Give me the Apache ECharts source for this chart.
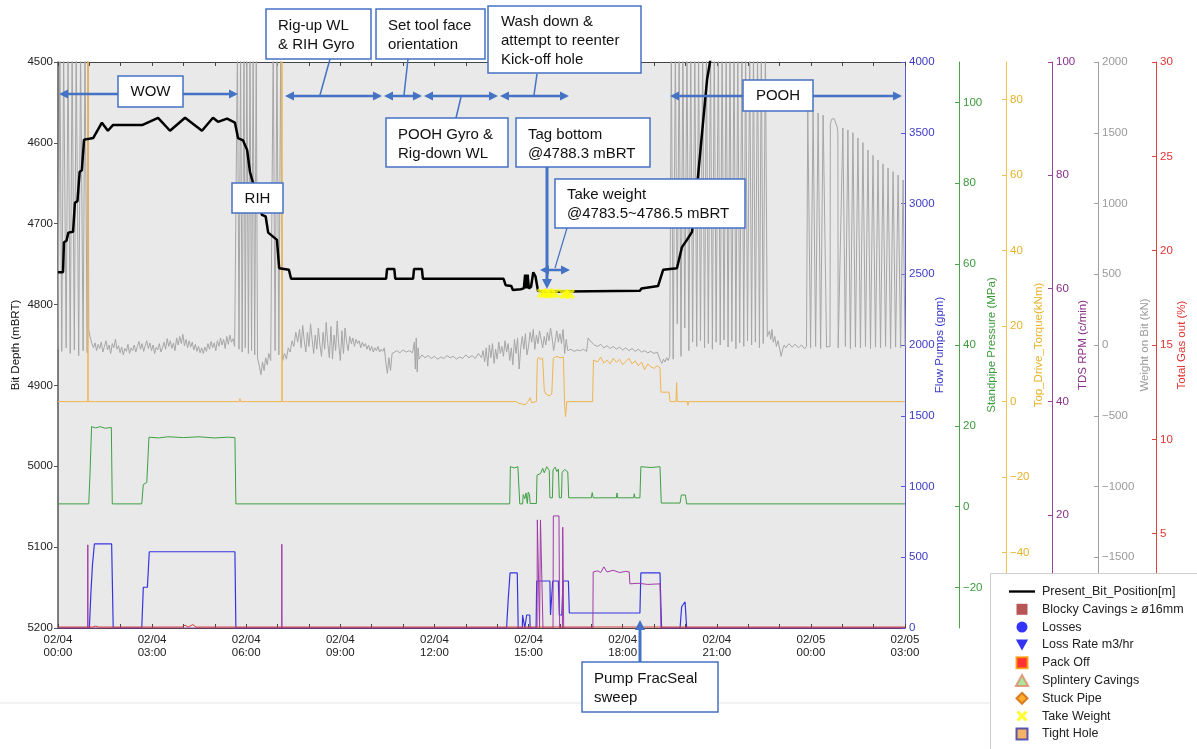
<!DOCTYPE html>
<html><head><meta charset="utf-8">
<script src="https://cdn.jsdelivr.net/npm/echarts@6/dist/echarts.min.js"></script>
<style>html,body{margin:0;padding:0;background:#fff}#c{width:1197px;height:749px}</style>
</head><body><div id="c"></div>
<script>
// ---------- DATA (x = hours since 02/04 00:00) ----------
const dayLabels = ['02/04', '02/05'];
const depthTicks = [4500, 5200, 100];
const standpipeTicks = [-20, 0, 20, 40, 60, 80, 100];
const torqueTicks = [-40, -20, 0, 20, 40, 60, 80];

const bitDepth = [[0,4760],[0.16,4760],[0.19,4723],[0.27,4721],[0.33,4711],[0.48,4710],[0.54,4674],[0.62,4672],[0.69,4636],[0.76,4634],[0.83,4596],[1.0,4595],[1.12,4594],[1.40,4575],[1.59,4585],[1.75,4578],[2.68,4578],[3.19,4569],[3.57,4585],[4.05,4569],[4.59,4585],[4.94,4569],[5.10,4574],[5.39,4570],[5.64,4575],[5.74,4594],[5.90,4597],[6.03,4609],[6.12,4636],[6.22,4650],[6.50,4689],[6.62,4691],[6.70,4711],[6.98,4720],[7.05,4755],[7.36,4757],[7.43,4768],
[10.46,4768],[10.49,4756],[10.72,4756],[10.75,4768],[11.32,4768],[11.35,4756],[11.60,4756],[11.63,4768],[14.20,4768],[14.27,4776],[14.45,4777],[14.50,4782],[14.75,4781],[14.85,4780],[14.89,4763],[14.93,4780],[14.97,4763],[15.01,4780],[15.08,4778],[15.15,4760],[15.22,4765],[15.30,4783],[15.45,4784],[18.55,4783],[18.60,4780],[19.13,4777],[19.29,4757],[19.73,4755],[19.89,4729],[20.05,4720],[20.21,4710],[20.24,4699],[20.40,4642],[20.53,4588],[20.69,4522],[20.78,4501],[20.85,4480]];

const takeWeight = [[15.42,4786],[15.52,4786.5],[15.62,4786],[15.72,4786.5],[15.84,4786],[16.12,4787],[16.22,4787],[16.32,4787]];

const wobTripA = [[0,-30],[0.06,2100],[0.12,-45],[0.18,2100],[0.26,-20],[0.32,2100],[0.39,-60],[0.45,2100],[0.52,-35],[0.58,2100],[0.66,-75],[0.72,2100],[0.80,-40],[0.86,2100],[0.93,-55],[0.96,2100],[0.98,110]];
const wobWow = [[1.02,60],[1.08,10],[1.13,-20],[1.18,15],[1.23,-40],[1.28,5],[1.33,-25],[1.38,20],[1.43,-50],[1.48,-10],[1.53,30],[1.58,-35],[1.63,0],[1.68,-60],[1.73,10],[1.78,-20],[1.83,40],[1.88,-30],[1.93,-5],[1.98,-55],[2.03,-15],[2.08,-70],[2.13,-25],[2.18,-45],[2.23,5],[2.28,-60],[2.33,-20],[2.38,-40],[2.43,0],[2.48,-50],[2.53,-10],[2.58,25],[2.63,-30],[2.68,10],[2.73,-45],[2.78,-5],[2.83,30],[2.88,-25],[2.93,15],[2.98,-40],[3.03,0],[3.08,-60],[3.13,-15],[3.18,-35],[3.23,10],[3.28,-50],[3.33,-20],[3.38,20],[3.43,-30],[3.48,45],[3.53,-10],[3.58,30],[3.63,-25],[3.68,15],[3.73,-40],[3.78,50],[3.83,0],[3.88,60],[3.93,10],[3.98,75],[4.03,-5],[4.08,40],[4.13,-20],[4.18,30],[4.23,-15],[4.28,20],[4.33,-35],[4.38,5],[4.43,-45],[4.48,-10],[4.53,-55],[4.58,-20],[4.63,-60],[4.68,-15],[4.73,-45],[4.78,10],[4.83,-30],[4.88,25],[4.93,-20],[4.98,15],[5.03,-40],[5.08,30],[5.13,-10],[5.18,50],[5.23,0],[5.28,40],[5.33,-25],[5.38,60],[5.43,5],[5.48,70],[5.53,20],[5.58,45],[5.63,-10]];
const wobRih = [[5.68,0],[5.72,2100],[5.77,-30],[5.82,2100],[5.87,-50],[5.93,2100],[5.97,-20],[6.02,2100],[6.07,-60],[6.12,2100],[6.17,-40],[6.22,2100],[6.27,-70],[6.32,2100],[6.36,-90],[6.42,-150],[6.47,-210],[6.52,-120],[6.57,-180],[6.62,-90],[6.67,-140],[6.72,-60],[6.78,-110],[6.86,2100],[6.92,-40],[6.98,2100],[7.04,-70],[7.10,2100],[7.16,-110],[7.22,-60],[7.28,-100],[7.34,-20],[7.40,-50],[7.46,30],[7.52,-10],[7.58,90],[7.64,20]];
const wobStation = [[7.70,110],[7.75,-20],[7.80,140],[7.85,30],[7.90,-50],[7.95,90],[8.00,-10],[8.05,150],[8.10,40],[8.15,-60],[8.20,70],[8.25,-30],[8.30,120],[8.35,0],[8.40,-80],[8.45,90],[8.50,-30],[8.55,160],[8.60,10],[8.65,-90],[8.70,130],[8.75,-100],[8.80,70],[8.85,-40],[8.90,170],[8.95,0],[9.00,-110],[9.05,100],[9.10,-60],[9.15,120],[9.20,20],[9.25,-40],[9.30,60],[9.35,10],[9.40,50],[9.45,-10],[9.50,40],[9.55,10],[9.60,30],[9.65,-20],[9.70,20],[9.75,-10],[9.80,10],[9.85,-30],[9.90,0],[9.95,-40],[10.00,-10],[10.05,-50],[10.10,-20],[10.15,-40],[10.20,-10],[10.25,-50],[10.30,-30],[10.35,-45],[10.40,-20],
[10.45,-120],[10.50,-200],[10.55,-90],[10.60,-180],[10.65,-60],[10.70,-50],[10.80,-40],[10.90,-55],[11.00,-35],[11.10,-50],[11.20,-40],[11.30,-55],[11.36,20],[11.39,-170],[11.42,50],[11.45,-190],[11.48,-20],[11.51,-100],
[11.60,-70],[11.70,-90],[11.80,-75],[11.90,-95],[12.00,-80],[12.10,-100],[12.20,-85],[12.30,-95],[12.40,-75],[12.50,-90],[12.60,-80],[12.70,-100],[12.80,-85],[12.90,-95],[13.00,-70],[13.10,-90],[13.20,-75],[13.30,-95],[13.40,-60],[13.50,-90],
[13.55,-40],[13.60,-120],[13.65,-20],[13.70,-150],[13.75,0],[13.80,-90],[13.85,10],[13.90,-130],[13.95,-30],[14.00,-100],[14.05,20],[14.10,-60],[14.15,-10],[14.20,-80],[14.25,30],[14.30,-50],[14.35,10],[14.40,-110],[14.45,-20],[14.50,-140],[14.55,40],[14.60,-60],[14.65,50],[14.70,-170],[14.75,-20],[14.80,60],[14.85,-30],[14.90,80],[14.95,-70],[15.00,-10],
[15.05,90],[15.10,20],[15.15,110],[15.20,-30],[15.25,70],[15.30,10],[15.35,100],[15.40,40],[15.45,-20],[15.50,60],[15.55,0],[15.60,90],[15.65,30],[15.70,120],[15.75,50],[15.80,-40],[15.85,30],[15.90,100],[15.95,20],[16.00,80],[16.05,10],[16.10,110],[16.15,-60],[16.20,40],
[16.25,-40],[16.35,-30],[16.45,-45],[16.55,-35],[16.65,-40],[16.75,-30],[16.85,-45],[16.90,50],[16.95,40],[17.00,20],[17.10,0],[17.20,-10],[17.30,5],[17.40,-20],[17.50,-5],[17.60,-25],[17.70,-10],[17.80,-30],[17.90,-15],[18.00,-35],[18.10,-20],[18.20,-40],[18.30,-25],[18.40,-45],[18.50,-30],[18.60,-50],[18.70,-40],[18.80,-55],[18.90,-45],[19.00,-60],[19.10,-50],[19.20,-110],[19.25,-130],[19.30,-100],[19.35,-120],[19.40,-90],[19.45,-110],[19.50,-80]];
const wobPoohA = [[19.55,2100],[19.61,-100],[19.68,2100],[19.74,150],[19.80,2100],[19.86,-80],[19.92,2100],[19.98,120],[20.05,2100],[20.11,-40],[20.17,2100],[20.23,20],[20.30,2100],[20.36,-10],[20.42,2100],[20.48,30],[20.55,2100],[20.61,-20],[20.67,2100],[20.73,10],[20.80,2100],[20.86,-30],[20.92,2100],[20.98,20],[21.05,2100],[21.11,0],[21.17,2100],[21.23,35],[21.30,2100],[21.36,-15],[21.42,2100],[21.48,25],[21.55,2100],[21.61,-25],[21.67,2100],[21.73,15],[21.80,2100],[21.86,-10],[21.92,2100],[21.98,30],[22.05,2100],[22.11,0],[22.17,2100],[22.23,20],[22.30,2100],[22.36,-20],[22.42,2100],[22.48,10],[22.55,2100],[22.61,60],
[22.68,100],[22.72,40],[22.76,110],[22.80,20],[22.85,60],[22.90,-10],[22.95,30],[23.00,-20],[23.05,-80],[23.10,-30],[23.15,0],[23.20,-20],[23.30,10],[23.40,-15],[23.50,5],[23.60,-20],[23.70,0],[23.80,-25],[23.86,-10]];
const wobPoohB = [[23.90,1675],[23.99,-20],[24.07,1660],[24.15,-10],[24.23,1640],[24.31,-25],[24.39,1625],[24.50,-15],[24.61,-10],[24.62,1560],[24.66,1595],[24.74,1600],[24.80,1590],[24.84,1540],[24.86,1500],[24.87,-20],[25.02,1534],[25.10,-10],[25.18,1520],[25.26,-25],[25.34,1500],[25.42,-15],[25.50,1463],[25.58,-20],[25.66,1430],[25.74,-10],[25.82,1378],[25.90,-25],[25.98,1340],[26.06,-15],[26.14,1307],[26.22,-20],[26.30,1280],[26.38,-10],[26.46,1251],[26.54,-25],[26.62,1225],[26.70,-15],[26.78,1201],[26.86,-20],[26.94,1166],[27.00,-10]];

const torque = [[0,0],[0.955,0],[0.955,100],[0.957,100],[0.957,0],[5.78,0],[5.80,0.8],[5.82,0],[7.14,0],[7.14,100],[7.142,100],[7.142,0],[14.60,0],[14.70,-0.5],[14.90,-0.8],[15.00,0.2],[15.05,1],[15.10,-0.3],[15.25,0],[15.28,11],[15.32,11.8],[15.38,11.2],[15.45,11.5],[15.50,3],[15.55,2],[15.65,1.5],[15.74,2],[15.79,11.5],[15.90,12],[16.00,11.6],[16.11,11.8],[16.15,-1],[16.18,-4],[16.22,0],[17.04,0],[17.07,11],[17.20,10.5],[17.30,11.8],[17.40,10.2],[17.50,11],[17.60,10],[17.70,11.5],[17.80,10.4],[17.90,11.2],[18.00,9.8],[18.10,10.6],[18.20,11.5],[18.30,10],[18.40,10.8],[18.50,9.5],[18.60,10.5],[18.70,8.5],[18.80,10],[18.90,9.2],[19.00,8.8],[19.10,9.5],[19.19,9],[19.22,2.5],[19.48,2.5],[19.51,0],[19.70,0],[19.72,5],[19.74,0],[20.06,0],[20.08,-1],[20.10,0],[27,0]];

const standpipe = [[0,0.7],[0.98,0.7],[1.02,8],[1.07,19.8],[1.20,19.5],[1.35,19.8],[1.50,19.4],[1.70,19.6],[1.73,0.7],[2.67,0.7],[2.72,5.5],[2.83,6],[2.90,17.2],[3.20,17.0],[3.50,17.3],[4.00,17.1],[4.50,17.3],[5.00,17.0],[5.40,17.2],[5.64,17.1],[5.67,0.7],[14.40,0.7],[14.42,9.9],[14.55,9.6],[14.66,9.9],[14.72,0.7],[14.81,0.7],[14.83,3],[14.88,2],[14.92,3.4],[14.96,0.8],[14.99,3.6],[15.03,3],[15.05,0.8],[15.25,0.8],[15.27,7.8],[15.38,8.2],[15.45,9.5],[15.50,8.4],[15.58,9.9],[15.66,9.0],[15.68,2.2],[15.76,2.2],[15.78,9.1],[15.85,9.8],[15.90,8.7],[15.95,9.3],[15.98,2.2],[16.05,2.2],[16.07,8.5],[16.15,9.2],[16.25,8.6],[16.28,2.2],[17.00,2.2],[17.03,3.5],[17.06,2.2],[17.80,2.2],[17.82,3.4],[17.84,2.2],[18.35,2.2],[18.37,3.2],[18.39,2.2],[18.55,2.2],[18.58,9.9],[18.90,9.7],[19.19,9.9],[19.23,0.9],[19.83,0.9],[19.87,2.9],[20.00,2.9],[20.04,0.7],[27,0.7]];

const flowPumps = [[0,0],[1.00,0],[1.05,250],[1.10,450],[1.16,594],[1.40,594],[1.71,594],[1.76,0],[2.67,0],[2.72,288],[2.85,288],[2.91,539],[4.00,539],[5.64,539],[5.67,0],[14.30,0],[14.35,198],[14.41,389],[14.64,389],[14.67,0],[14.80,0],[14.81,92],[14.87,92],[14.88,0],[14.93,0],[14.94,92],[15.04,92],[15.05,0],[15.24,0],[15.26,332],[15.68,332],[15.70,92],[15.74,92],[15.77,332],[15.95,332],[15.98,92],[16.06,92],[16.10,332],[16.27,332],[16.30,106],[18.55,106],[18.58,389],[19.19,389],[19.24,0],[19.83,0],[19.88,150],[19.99,184],[20.02,184],[20.04,0],[27,0]];

const rpm = [[0,0],[0.945,0],[0.95,14.7],[0.955,0],[7.13,0],[7.135,14.8],[7.14,0],[15.27,0],[15.28,19.1],[15.33,19.1],[15.35,0],[15.37,0],[15.38,19.1],[15.44,19.1],[15.46,0],[15.78,0],[15.79,19.8],[15.97,19.8],[15.99,0],[16.08,0],[16.09,17.8],[16.12,0],[17.05,0],[17.06,9.9],[17.20,10.1],[17.30,9.8],[17.40,10.8],[17.50,9.9],[17.70,10.2],[17.90,9.8],[18.10,10.0],[18.21,9.9],[18.23,7.8],[18.50,7.9],[18.80,7.7],[19.19,7.8],[19.22,0],[27,0]];

const gasOut = [[0,0.05],[1.10,0.05],[1.20,0.1],[1.30,0.05],[3.95,0.05],[4.05,0.15],[4.15,0.05],[4.30,0.18],[4.40,0.05],[27,0.05]];

const legendNames = ['Present_Bit_Position[m]', 'Blocky Cavings \u2265 \u00f816mm', 'Losses', 'Loss Rate m3/hr', 'Pack Off', 'Splintery Cavings', 'Stuck Pipe', 'Take Weight', 'Tight Hole'];

// ---------- CHART ----------
const FONT = 'Liberation Sans';
const minus = v => String(v).replace('-', '\u2212');
const wob = [].concat(wobTripA, wobWow, wobRih, wobStation, wobPoohA, wobPoohB);
const P_X = 'path://M0,2 L2,0 L5,3 L8,0 L10,2 L7,5 L10,8 L8,10 L5,7 L2,10 L0,8 L3,5 Z';
const P_TRI_DOWN = 'path://M0,0 L10,0 L5,9 Z';
const P_TRI = 'path://M5,0 L10,9 L0,9 Z';
const P_RECT = 'path://M0,0 L10,0 L10,10 L0,10 Z';
const P_DIAMOND = 'path://M5,0 L10,5 L5,10 L0,5 Z';
const P_LINE = 'path://M0,0 L110,0 L110,10 L0,10 Z';
const P_CIRCLE = 'circle';

function rightAxis(name, color, lineColor, offset, min, max, interval, gap, custom) {
  const a = {
    type: 'value', position: 'right', offset: offset, min: min, max: max,
    name: name, nameLocation: 'middle', nameRotate: 90, nameGap: gap, nameMoveOverlap: false,
    nameTextStyle: {color: color, fontSize: 11.5, fontFamily: FONT},
    axisLine: {show: true, onZero: false, lineStyle: {color: lineColor, width: 1}},
    axisTick: {show: true, inside: true, length: 4, lineStyle: {color: lineColor}},
    axisLabel: {color: color, fontSize: 11.5, fontFamily: FONT, margin: 4, formatter: minus},
    splitLine: {show: false}
  };
  if (interval) a.interval = interval;
  if (custom) { a.axisLabel.customValues = custom; a.axisTick.customValues = custom; }
  return a;
}

const C = '#4472c4';
function head(x, y, dir, s) {
  const L = s || 9, W = (s || 9) / 2;
  let p;
  if (dir === 'l') p = [[x, y], [x + L, y - W], [x + L, y + W]];
  if (dir === 'r') p = [[x, y], [x - L, y - W], [x - L, y + W]];
  if (dir === 'd') p = [[x, y], [x - W, y - L], [x + W, y - L]];
  if (dir === 'u') p = [[x, y], [x - W, y + L], [x + W, y + L]];
  return {type: 'polygon', shape: {points: p}, style: {fill: C}, z: 99};
}
function seg(x1, y1, x2, y2, w) {
  return {type: 'line', shape: {x1: x1, y1: y1, x2: x2, y2: y2}, style: {stroke: C, lineWidth: w}, z: 99};
}
function dbl(x1, x2, y) { return [seg(x1 + 6, y, x2 - 6, y, 2.5), head(x1, y, 'l'), head(x2, y, 'r')]; }
function box(x, y, w, h) {
  return {type: 'rect', shape: {x: x, y: y, width: w, height: h}, style: {fill: '#fff', stroke: C, lineWidth: 1.5}, z: 100};
}
function txt(x, y, t, align) {
  return {type: 'text', x: x, y: y, style: {text: t, fontSize: 15, fontFamily: FONT, fill: '#111', align: align || 'left', verticalAlign: 'middle', lineHeight: 19}, z: 101};
}

const elements = [].concat(
  [{type: 'line', shape: {x1: 0, y1: 703, x2: 990, y2: 703}, style: {stroke: '#e4e4e4', lineWidth: 1}, z: 50}],
  dbl(59, 238, 94), dbl(285, 382, 96), dbl(384, 422, 96), dbl(424, 498, 96), dbl(500, 569, 96), dbl(670, 902, 96), dbl(540, 570, 270),
  [seg(330, 59, 320, 95, 1.5), seg(408, 59, 404, 95, 1.5), seg(461, 97, 456, 118, 1.5), seg(537, 74, 534, 95, 1.5), seg(567, 228, 555, 268, 1.2),
   seg(547, 167, 547, 280, 3), head(547, 289, 'd', 10), seg(640, 662, 640, 629, 3), head(640, 620, 'u', 10)],
  [box(118, 76, 65, 31), txt(150.5, 92, 'WOW', 'center'),
   box(232, 183, 51, 30), txt(257.5, 198.5, 'RIH', 'center'),
   box(266, 9, 105, 50), txt(278, 35.5, 'Rig-up WL\n& RIH Gyro'),
   box(376, 9, 109, 50), txt(388, 35.5, 'Set tool face\norientation'),
   box(488, 6, 153, 67), txt(501, 40.5, 'Wash down &\nattempt to reenter\nKick-off hole'),
   box(386, 118, 122, 49), txt(398, 144.5, 'POOH Gyro &\nRig-down WL'),
   box(516, 118, 134, 49), txt(528, 144.5, 'Tag bottom\n@4788.3 mBRT'),
   box(555, 179, 190, 49), txt(567, 204.5, 'Take weight\n@4783.5~4786.5 mBRT'),
   box(743, 80, 70, 31), txt(778, 96, 'POOH', 'center'),
   box(582, 662, 136, 50), txt(594, 688.5, 'Pump FracSeal\nsweep')],
  [{type: 'rect', shape: {x: 990.5, y: 573.5, width: 230, height: 200}, style: {fill: '#fff', stroke: '#cfcfcf', lineWidth: 1}, z: 150}]
);

const lineSeries = (name, data, yi, color, w, z) => ({
  name: name, type: 'line', data: data, yAxisIndex: yi, xAxisIndex: 0, symbol: 'none', showSymbol: false,
  lineStyle: {color: color, width: w}, itemStyle: {color: color}, z: z, silent: true, animation: false
});
const legendScatter = (name, symbol, color, border, bw) => ({
  name: name, type: 'scatter', data: [], symbol: symbol, symbolSize: 10,
  itemStyle: {color: color, borderColor: border || color, borderWidth: bw || 0}
});
const legendIcons = {
  'Present_Bit_Position[m]': P_LINE, 'Blocky Cavings \u2265 \u00f816mm': P_RECT, 'Losses': P_CIRCLE,
  'Loss Rate m3/hr': P_TRI_DOWN, 'Pack Off': P_RECT, 'Splintery Cavings': P_TRI, 'Stuck Pipe': P_DIAMOND,
  'Take Weight': P_X, 'Tight Hole': P_RECT
};

const xCommon = {
  type: 'value', min: 0, max: 27,
  axisLine: {onZero: false, lineStyle: {color: '#444', width: 1.2}},
  axisTick: {inside: true, length: 4, lineStyle: {color: '#444'}},
  splitLine: {show: false}
};

const chart = echarts.init(document.getElementById('c'), null, {renderer: 'canvas'});
chart.setOption({
  animation: false,
  backgroundColor: '#fff',
  textStyle: {fontFamily: FONT},
  grid: {left: 58, right: 292, top: 62, bottom: 121, show: true, backgroundColor: '#e9e9e9', borderWidth: 0,
         containLabel: false, outerBoundsMode: 'none'},
  xAxis: [Object.assign({}, xCommon, {
    position: 'bottom', interval: 3,
    minorTick: {show: true, splitNumber: 3, length: 4, lineStyle: {color: '#444'}},
    axisLabel: {color: '#222', fontSize: 11.5, fontFamily: FONT, margin: 5, lineHeight: 13,
      formatter: v => dayLabels[v < 24 ? 0 : 1] + '\n' + String(v % 24).padStart(2, '0') + ':00'}
  }), Object.assign({}, xCommon, {
    position: 'top', interval: 1, axisLabel: {show: false}
  })],
  yAxis: [
    {type: 'value', position: 'left', inverse: true, min: depthTicks[0], max: depthTicks[1], interval: depthTicks[2],
     name: 'Bit Depth (mBRT)', nameLocation: 'middle', nameRotate: 90, nameGap: 36, nameMoveOverlap: false,
     nameTextStyle: {color: '#111', fontSize: 11.5, fontFamily: FONT},
     axisLine: {show: true, onZero: false, lineStyle: {color: '#555', width: 1.5}},
     axisTick: {show: true, inside: false, length: 4, lineStyle: {color: '#555'}},
     axisLabel: {color: '#222', fontSize: 11.5, fontFamily: FONT, margin: 5, formatter: v => String(v)},
     splitLine: {show: false}},
    rightAxis('Flow Pumps (gpm)', '#3a3ac8', '#5a5ad8', 0, 0, 4000, 500, 29),
    rightAxis('Standpipe Pressure (MPa)', '#3c9a3c', '#4aa44a', 54, -30, 110, null, 27, standpipeTicks),
    rightAxis('Top_Drive_Torque(kNm)', '#e6b22a', '#efc24a', 101, -60, 90, null, 27, torqueTicks),
    rightAxis('TDS RPM (c/min)', '#8a2f8a', '#9a3f9a', 147, 0, 100, 20, 25),
    rightAxis('Weight on Bit (kN)', '#9a9a9a', '#a0a0a0', 193, -2000, 2000, 500, 41),
    rightAxis('Total Gas out (%)', '#e03333', '#e04040', 251, 0, 30, 5, 20)
  ],
  legend: {
    data: legendNames.map(n => ({name: n, icon: legendIcons[n]})),
    orient: 'vertical', left: 1009, top: 584, padding: 0, itemWidth: 26, itemHeight: 11, itemGap: 2.8,
    textStyle: {fontFamily: FONT, fontSize: 12.5, color: '#222', lineHeight: 15, padding: [0, 0, 0, 2]},
    selectedMode: false, z: 200
  },
  graphic: {elements: elements},
  series: [
    lineSeries('Weight on Bit', wob, 5, '#a6a6a6', 1, 1),
    lineSeries('Top Drive Torque', torque, 3, '#f0b450', 1, 2),
    lineSeries('Standpipe Pressure', standpipe, 2, '#3fa043', 1, 2),
    lineSeries('Flow Pumps', flowPumps, 1, '#3535e0', 1.2, 3),
    lineSeries('TDS RPM', rpm, 4, '#a23aa8', 1, 3),
    lineSeries('Total Gas out', gasOut, 6, '#d43a3a', 1, 3),
    lineSeries('Present_Bit_Position[m]', bitDepth, 0, '#000', 2.5, 5),
    legendScatter('Blocky Cavings \u2265 \u00f816mm', P_RECT, '#a52a2a'),
    legendScatter('Losses', 'circle', '#0000ff'),
    legendScatter('Loss Rate m3/hr', P_TRI_DOWN, '#0000ee'),
    legendScatter('Pack Off', P_RECT, '#ff0000', '#ff9900', 1.5),
    legendScatter('Splintery Cavings', P_TRI, '#99dd88', '#e08866', 1.2),
    legendScatter('Stuck Pipe', P_DIAMOND, '#ff9900', '#cc6600', 1.2),
    {name: 'Take Weight', type: 'scatter', data: takeWeight, yAxisIndex: 0, symbol: P_X, symbolSize: 10,
     itemStyle: {color: '#ffff00'}, z: 6, silent: true},
    legendScatter('Tight Hole', P_RECT, '#f0a040', '#3333aa', 1.5)
  ]
});
</script></body></html>
